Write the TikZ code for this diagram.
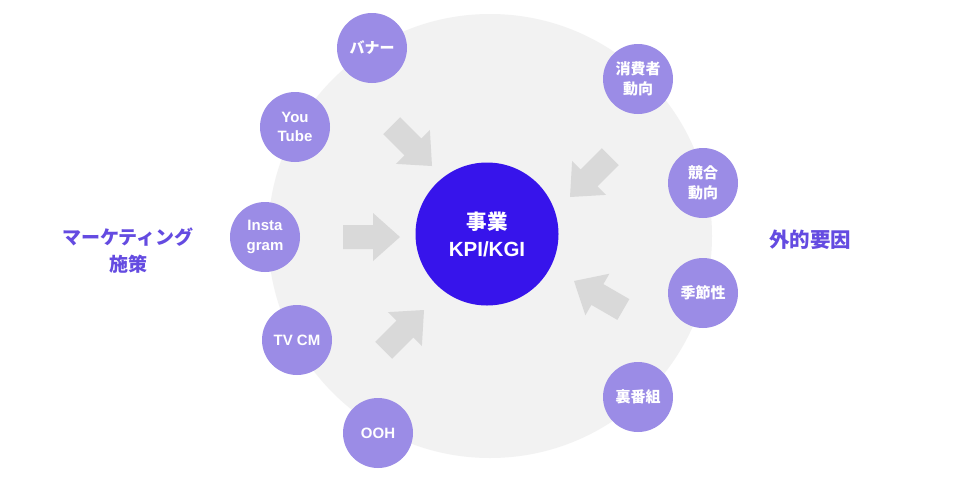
\documentclass[tikz,border=0pt]{standalone}
\usepackage{fontspec}
\setmainfont{Liberation Sans}
\newfontfamily\cjk{Noto Sans CJK JP}
\definecolor{bigbg}{RGB}{242,242,242}
\definecolor{arrowgray}{RGB}{217,217,217}
\definecolor{smallc}{RGB}{155,140,230}
\definecolor{corec}{RGB}{55,20,235}
\definecolor{labelc}{RGB}{100,75,225}
\newcommand\blkarrow[3]{%
  \fill[arrowgray, shift={(#1,#2)}, rotate=#3]
    (0,0) -- (-27,24) -- (-27,12) -- (-57,12) -- (-57,-12) -- (-27,-12) -- (-27,-24) -- cycle;}
\begin{document}
\begin{tikzpicture}[x=1pt,y=-1pt,
  small/.style={circle, fill=smallc, minimum size=70pt, inner sep=0pt, text=white,
    font=\bfseries\fontsize{15}{19.5}\selectfont, align=center},
  core/.style={circle, fill=corec, minimum size=143pt, inner sep=0pt, text=white,
    font=\bfseries\fontsize{20.5}{27}\selectfont, align=center},
  side/.style={text=labelc, font=\cjk\bfseries\fontsize{19}{27}\selectfont, align=center}
]
\useasboundingbox (0,0) rectangle (960,480);
\fill[white] (0,0) rectangle (960,480);
% big background circle
\node[circle, fill=bigbg, minimum size=444pt, inner sep=0pt] (bg) at (490,236) {};
% arrows
\blkarrow{400}{237}{0}
\blkarrow{432}{166}{-45}
\blkarrow{424}{310}{45}
\blkarrow{570}{197}{-135}
\blkarrow{574}{281}{150}
% core
\node[core] (core) at (487,234) {{\cjk 事業}\\KPI/KGI};
% left circles
\node[small] (banner) at (372,48) {\cjk バナー};
\node[small] (yt) at (295,127) {You\\Tube};
\node[small] (insta) at (265,237) {Insta\\gram};
\node[small] (tv) at (297,340) {TV CM};
\node[small] (ooh) at (378,433) {OOH};
% right circles
\node[small] (cons) at (638,79) {\cjk 消費者\\\cjk 動向};
\node[small] (comp) at (703,183) {\cjk 競合\\\cjk 動向};
\node[small] (season) at (703,293) {\cjk 季節性};
\node[small] (ura) at (638,397) {\cjk 裏番組};
% side labels
\node[side] (mkt) at (128,251) {マーケティング\\施策};
\node[side, font=\cjk\bfseries\fontsize{20.5}{27}\selectfont] (ext) at (810,240) {外的要因};
\end{tikzpicture}
\end{document}
